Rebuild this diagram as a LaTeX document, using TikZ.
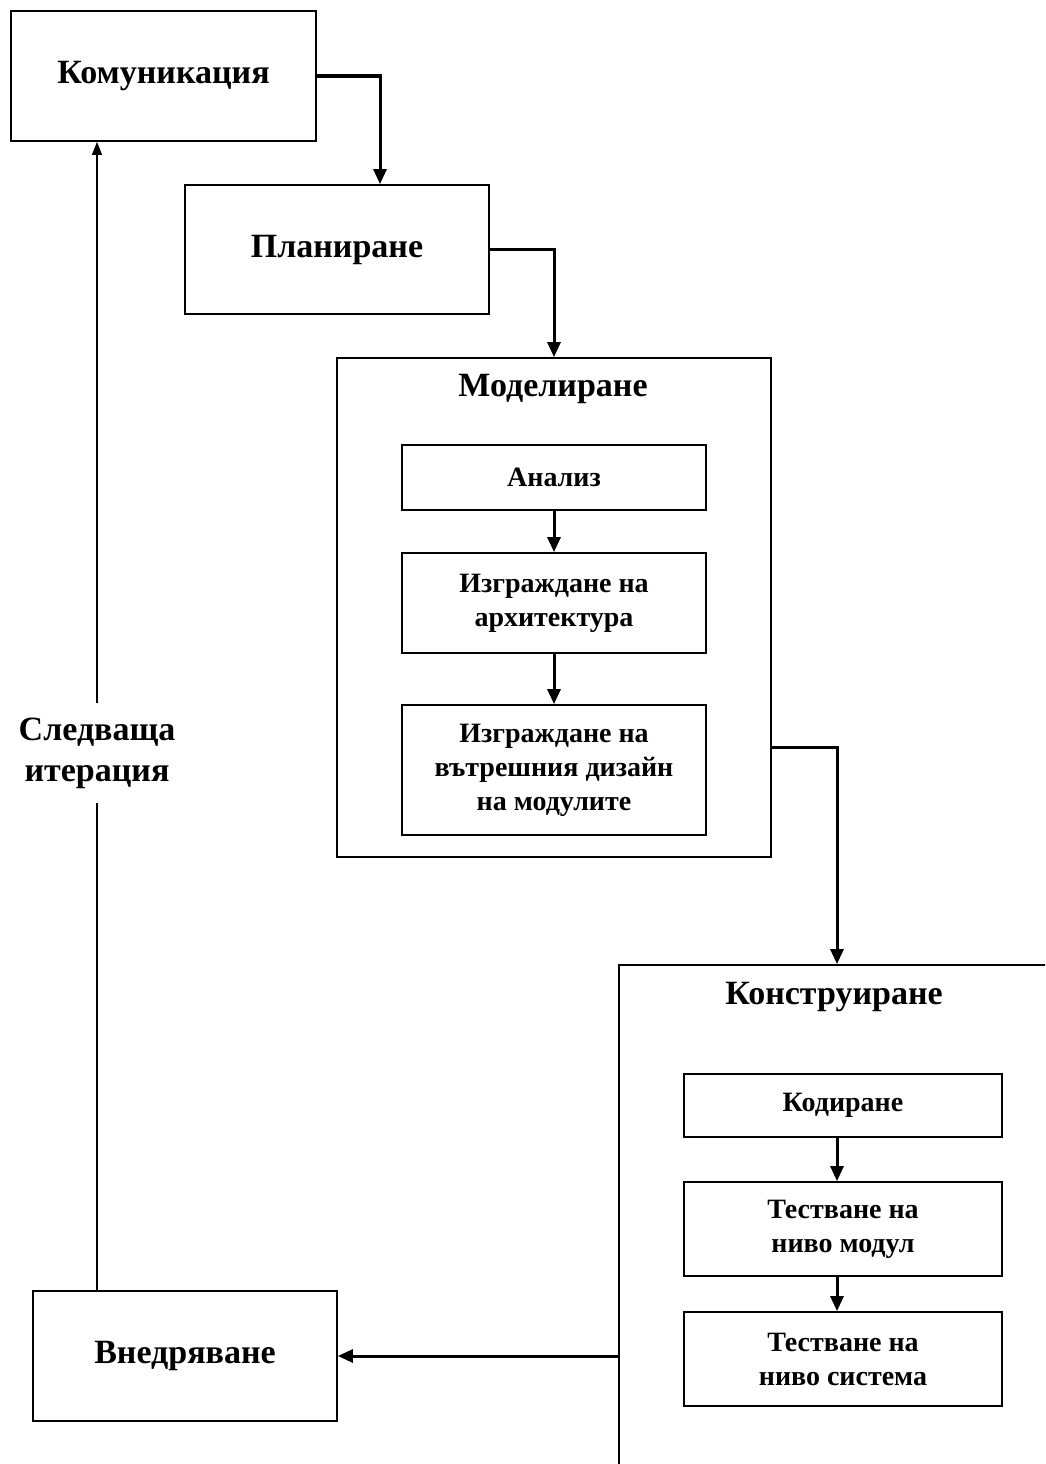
\documentclass[tikz,border=0pt]{standalone}
\usepackage{fontspec}
\setmainfont{Liberation Serif}
\usetikzlibrary{arrows.meta}
\begin{document}
\begin{tikzpicture}[x=1pt,y=-1pt,
  phase/.style={draw=black,line width=1.8pt,minimum width=305pt,minimum height=130pt,
    font=\fontsize{34}{38}\selectfont\bfseries,align=center,inner sep=0pt},
  group/.style={draw=black,line width=1.8pt,inner sep=0pt},
  task/.style={draw=black,line width=1.8pt,minimum width=304pt,inner sep=0pt,
    font=\fontsize{28}{34}\selectfont\bfseries,align=center},
  title/.style={font=\fontsize{34}{38}\selectfont\bfseries},
  flow/.style={line width=3pt,-{Triangle[length=15pt,width=13pt]}},
  back/.style={line width=1.5pt},
]
\useasboundingbox (0,0) rectangle (1045,1464);
\clip (0,0) rectangle (1045,1464);
\fill[white] (0,0) rectangle (1045,1464);

% top-level phases
\node[phase] (kom) at (163.5,76) {Комуникация};
\node[phase,minimum width=304pt,minimum height=129pt] (plan) at (337,249.5) {Планиране};
\node[phase,minimum width=304pt] (vned) at (185,1356) {Внедряване};

% modelling group
\node[group,minimum width=434pt,minimum height=499pt] (model) at (554,607.5) {};
\node[title] (modelt) at (553,389) {Моделиране};
\node[task,minimum height=65pt] (anal) at (554,477.5) {Анализ};
\node[task,minimum height=100pt] (arch) at (554,603) {Изграждане на\\архитектура};
\node[task,minimum height=130pt] (design) at (554,770) {Изграждане на\\вътрешния дизайн\\на модулите};

% construction group (runs past the page edge)
\node[group,minimum width=436pt,minimum height=509pt] (konstr) at (837,1219.5) {};
\node[title] (konstrt) at (834,997) {Конструиране};
\node[task,minimum width=318pt,minimum height=63pt] (code) at (843,1105.5) {Кодиране};
\node[task,minimum width=318pt,minimum height=94pt] (unit) at (843,1229) {Тестване на\\ниво модул};
\node[task,minimum width=318pt,minimum height=94pt] (sys) at (843,1359) {Тестване на\\ниво система};

% iteration label
\node[font=\fontsize{34}{41}\selectfont\bfseries,align=center,inner xsep=0pt,inner ysep=14pt]
  (iter) at (97,753) {Следваща\\итерация};

% main flow
\draw[flow] (kom.east) -| ([xshift=43pt]plan.north);
\draw[flow] (plan.east) -| (model.north);
\draw[flow] (anal.south) -- (arch.north);
\draw[flow] (arch.south) -- (design.north);
\draw[flow] ([yshift=-140pt]model.east) -| (konstr.north);
\draw[flow] (code.south -| konstr.north) -- (unit.north -| konstr.north);
\draw[flow] (unit.south -| konstr.north) -- (sys.north -| konstr.north);
\draw[flow] (konstr.west |- vned.east) -- (vned.east);

% feedback to the next iteration
\draw[back] (vned.north -| iter.south) -- (iter.south);
\draw[back,-{Triangle[length=13pt,width=10pt]}] (iter.north) -- (kom.south -| iter.north);
\end{tikzpicture}
\end{document}
